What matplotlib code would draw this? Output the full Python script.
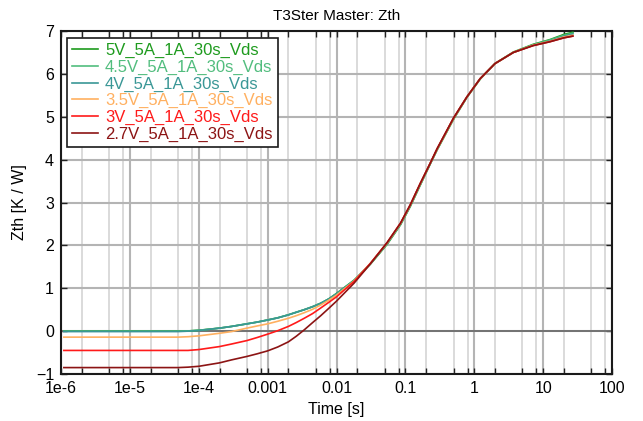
import matplotlib
matplotlib.use('Agg')
import matplotlib.pyplot as plt
from matplotlib.ticker import LogLocator, NullFormatter

plt.rcParams['font.family'] = ['Liberation Sans', 'DejaVu Sans']

# time axis [s]
time_s = [1.1e-6, 1e-5, 5e-5, 7e-5, 1e-4, 2e-4, 3e-4, 5e-4, 7e-4, 1e-3,
          1.4e-3, 2e-3, 2.6e-3, 3.4e-3, 4.5e-3, 5.9e-3, 7.7e-3,
          1e-2, 1.8e-2, 3.1e-2, 5.4e-2, 8.5e-2, 0.118, 0.165, 0.23, 0.29, 0.5,
          0.78, 1.22, 2.0, 3.7, 7.2, 12.6, 20, 27]

# Zth [K/W] per measurement
zth_5v = [0, 0, 0, 0.005, 0.02, 0.07, 0.11, 0.17, 0.21, 0.26,
          0.31, 0.38, 0.44, 0.50, 0.57, 0.65, 0.75,
          0.88, 1.19, 1.56, 2.02, 2.48, 2.91, 3.41, 3.90, 4.23, 4.94,
          5.45, 5.88, 6.24, 6.51, 6.69, 6.80, 6.92, 6.97]
zth_4v5 = [0, 0, 0, 0.005, 0.02, 0.07, 0.11, 0.17, 0.21, 0.26,
           0.31, 0.38, 0.44, 0.50, 0.57, 0.65, 0.75,
           0.87, 1.18, 1.57, 2.03, 2.49, 2.92, 3.42, 3.91, 4.24, 4.95,
           5.45, 5.88, 6.24, 6.50, 6.68, 6.79, 6.90, 6.95]
zth_4v = [-0.01, -0.01, -0.01, 0.0, 0.015, 0.07, 0.11, 0.17, 0.21, 0.26,
          0.31, 0.38, 0.44, 0.50, 0.57, 0.65, 0.75,
          0.87, 1.18, 1.57, 2.04, 2.50, 2.93, 3.43, 3.91, 4.25, 4.96,
          5.46, 5.89, 6.24, 6.50, 6.67, 6.77, 6.88, 6.93]
zth_3v5 = [-0.14, -0.14, -0.14, -0.13, -0.11, -0.05, -0.01, 0.07, 0.12, 0.17,
           0.23, 0.30, 0.36, 0.43, 0.51, 0.61, 0.72,
           0.84, 1.17, 1.58, 2.05, 2.51, 2.94, 3.44, 3.92, 4.25, 4.96,
           5.46, 5.89, 6.24, 6.50, 6.67, 6.76, 6.86, 6.90]
zth_3v = [-0.45, -0.45, -0.45, -0.45, -0.43, -0.36, -0.30, -0.22, -0.15, -0.07,
          0.01, 0.11, 0.20, 0.30, 0.41, 0.54, 0.67,
          0.80, 1.16, 1.58, 2.06, 2.52, 2.95, 3.45, 3.92, 4.26, 4.97,
          5.46, 5.89, 6.24, 6.50, 6.66, 6.75, 6.84, 6.88]
zth_2v7 = [-0.85, -0.85, -0.85, -0.84, -0.82, -0.74, -0.67, -0.59, -0.53, -0.46,
           -0.37, -0.25, -0.12, 0.03, 0.20, 0.36, 0.53,
           0.70, 1.12, 1.57, 2.06, 2.52, 2.95, 3.45, 3.92, 4.26, 4.97,
           5.46, 5.89, 6.24, 6.50, 6.66, 6.75, 6.84, 6.88]

labels = ['5V_5A_1A_30s_Vds', '4.5V_5A_1A_30s_Vds', '4V_5A_1A_30s_Vds',
          '3.5V_5A_1A_30s_Vds', '3V_5A_1A_30s_Vds', '2.7V_5A_1A_30s_Vds']
series = [zth_5v, zth_4v5, zth_4v, zth_3v5, zth_3v, zth_2v7]
colors = ['#1e9b1e', '#52bd7e', '#3a9796', '#ffb060', '#ff1a1a', '#8c1414']

xtick_vals = [1e-6, 1e-5, 1e-4, 1e-3, 1e-2, 1e-1, 1, 10, 100]
xtick_labels = ['1e-6', '1e-5', '1e-4', '0.001', '0.01', '0.1', '1', '10', '100']

fig = plt.figure(figsize=(6.43, 4.21), dpi=100)
ax = fig.add_axes([0.0949, 0.1116, 0.8569, 0.8148])

for y, c, lab in zip(series, colors, labels):
    ax.plot(time_s, y, color=c, lw=1.2, label=lab, zorder=3)

ax.set_xscale('log')
ax.set_xlim(1e-6, 100)
ax.set_ylim(-1, 7)
ax.set_xticks(xtick_vals)
ax.set_xticklabels(xtick_labels)
ax.xaxis.set_minor_locator(LogLocator(base=10, subs=(2, 5, 8), numticks=20))
ax.xaxis.set_minor_formatter(NullFormatter())
ax.set_yticks(range(-1, 8))

# grid: decades darker, 2/5/8 lighter, zero line emphasised
ax.grid(which='major', axis='x', color='#b4b4b4', lw=1.5)
ax.grid(which='minor', axis='x', color='#d8d8d8', lw=1.3)
ax.grid(which='major', axis='y', color='#b4b4b4', lw=1.5)
ax.axhline(0, color='#6e6e6e', lw=1.3, zorder=2)
ax.set_axisbelow(True)

ax.tick_params(which='both', direction='in', top=True, right=True,
               labelsize=11.5, color='#222222', pad=5, length=4, width=1)
for s in ax.spines.values():
    s.set_linewidth(1.5)
    s.set_color('#1a1a1a')

ax.set_xlabel('Time [s]', fontsize=11.5, labelpad=4)
ax.set_ylabel('Zth [K / W]', fontsize=11.5, labelpad=6)
ax.set_title('T3Ster Master: Zth', fontsize=11, pad=8)

leg = ax.legend(loc='upper left', bbox_to_anchor=(0.0103, 0.979), borderaxespad=0,
                fontsize=12, handlelength=1.55, labelspacing=0.09,
                fancybox=False, framealpha=1, edgecolor='#1a1a1a',
                borderpad=0.3, handletextpad=0.45)
leg.get_frame().set_linewidth(1.2)
for txt, c in zip(leg.get_texts(), colors):
    txt.set_color(c)

fig.savefig('out.png', dpi=100)
